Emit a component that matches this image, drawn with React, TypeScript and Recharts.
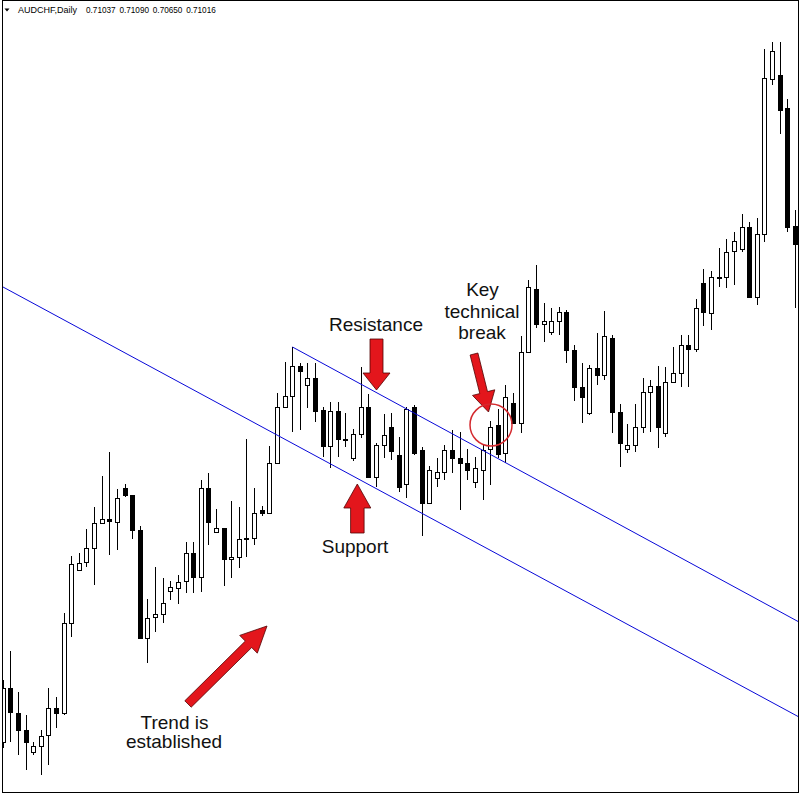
import React from 'react'
import { ComposedChart, Bar, XAxis, YAxis, ReferenceLine } from 'recharts'

// ---------------------------------------------------------------------------
// AUDCHF daily — channel breakout with annotations
// ---------------------------------------------------------------------------

const open = [
  0.6598, 0.6652, 0.6627, 0.661, 0.6588, 0.6594, 0.6605, 0.6632, 0.6627, 0.6717,
  0.677, 0.6778, 0.6792, 0.6817, 0.6821, 0.6818, 0.6852, 0.6845, 0.681, 0.6702,
  0.6723, 0.6726, 0.6749, 0.6752, 0.6759, 0.6787, 0.6763, 0.6852, 0.6808, 0.6812,
  0.6781, 0.6783, 0.6802, 0.6802, 0.683, 0.6827, 0.6877, 0.6933, 0.6944, 0.6974,
  0.6955, 0.6962, 0.693, 0.6894, 0.6929, 0.6901, 0.6882, 0.6906, 0.6933, 0.6863,
  0.6895, 0.6913, 0.6885, 0.6856, 0.6933, 0.689, 0.6837, 0.6862, 0.6868, 0.689,
  0.6882, 0.6877, 0.6858, 0.687, 0.6891, 0.6915, 0.6887, 0.6937, 0.6917, 0.6988,
  0.7051, 0.7016, 0.7008, 0.7019, 0.7028, 0.699, 0.6953, 0.6927, 0.6972, 0.6965,
  0.7002, 0.6928, 0.6891, 0.6895, 0.6913, 0.6948, 0.6954, 0.6907, 0.6958, 0.6967,
  0.6995, 0.6991, 0.7057, 0.7027, 0.7063, 0.7063, 0.7089, 0.7091, 0.7113, 0.7043,
  0.7106, 0.7261, 0.7265, 0.7232, 0.7114,
]

const high = [
  0.666, 0.6689, 0.6648, 0.6625, 0.6598, 0.661, 0.6652, 0.6643, 0.6727, 0.6784,
  0.6787, 0.6811, 0.6833, 0.6864, 0.6888, 0.6851, 0.6856, 0.6845, 0.6814, 0.6741,
  0.6773, 0.6762, 0.6759, 0.6765, 0.6798, 0.6798, 0.686, 0.6867, 0.6831, 0.6812,
  0.6839, 0.6833, 0.6901, 0.6852, 0.6834, 0.6894, 0.6947, 0.6978, 0.6993, 0.6977,
  0.6977, 0.6977, 0.6933, 0.6938, 0.6938, 0.6927, 0.6911, 0.6973, 0.6946, 0.6897,
  0.6926, 0.6927, 0.6903, 0.6933, 0.6935, 0.6893, 0.6874, 0.6882, 0.6895, 0.691,
  0.6908, 0.6891, 0.6883, 0.6895, 0.6919, 0.6931, 0.6955, 0.6947, 0.7004, 0.706,
  0.7075, 0.7037, 0.7032, 0.7033, 0.703, 0.6995, 0.6977, 0.6975, 0.7007, 0.7029,
  0.7005, 0.6936, 0.6916, 0.6936, 0.6962, 0.696, 0.6974, 0.6973, 0.6993, 0.7005,
  0.7005, 0.7041, 0.7071, 0.7069, 0.7092, 0.7101, 0.7108, 0.7126, 0.7118, 0.7122,
  0.7291, 0.7298, 0.7298, 0.7241, 0.713,
]

const low = [
  0.6592, 0.6598, 0.6585, 0.657, 0.6585, 0.6565, 0.6575, 0.6612, 0.6625, 0.6703,
  0.6769, 0.6773, 0.6755, 0.6817, 0.6785, 0.679, 0.6843, 0.6801, 0.6702, 0.6677,
  0.6708, 0.6717, 0.674, 0.6736, 0.6747, 0.6747, 0.6748, 0.6795, 0.6808, 0.6754,
  0.6762, 0.6772, 0.6783, 0.6795, 0.6824, 0.6827, 0.6877, 0.6933, 0.6908, 0.691,
  0.6932, 0.6918, 0.6883, 0.6872, 0.6883, 0.6893, 0.6879, 0.6902, 0.6863, 0.6853,
  0.6882, 0.688, 0.6848, 0.6842, 0.6885, 0.6804, 0.6837, 0.6853, 0.686, 0.6867,
  0.683, 0.686, 0.6852, 0.684, 0.6855, 0.6882, 0.6877, 0.6917, 0.6907, 0.6987,
  0.7012, 0.6998, 0.7005, 0.7005, 0.6977, 0.6939, 0.6917, 0.6925, 0.6955, 0.696,
  0.6907, 0.6873, 0.6887, 0.6888, 0.6907, 0.6908, 0.6892, 0.6903, 0.6957, 0.6953,
  0.6953, 0.6988, 0.7014, 0.701, 0.7053, 0.7052, 0.7055, 0.7088, 0.7043, 0.7035,
  0.7098, 0.7255, 0.7206, 0.7108, 0.7032,
]

const close = [
  0.6652, 0.6628, 0.661, 0.6598, 0.6594, 0.6604, 0.6632, 0.6627, 0.6717, 0.6776,
  0.6777, 0.6792, 0.6817, 0.6821, 0.6819, 0.6842, 0.6845, 0.681, 0.6702, 0.6722,
  0.6726, 0.6737, 0.6753, 0.6758, 0.6787, 0.6763, 0.6852, 0.6818, 0.6812, 0.6781,
  0.6783, 0.6801, 0.6801, 0.6827, 0.6827, 0.6877, 0.6933, 0.6944, 0.6974, 0.6969,
  0.6962, 0.6929, 0.6894, 0.6929, 0.6901, 0.69, 0.6906, 0.6933, 0.6863, 0.6895,
  0.6905, 0.6889, 0.6853, 0.6931, 0.6887, 0.6837, 0.687, 0.6868, 0.689, 0.6882,
  0.6877, 0.687, 0.6872, 0.689, 0.6913, 0.6886, 0.6943, 0.6917, 0.6988, 0.7053,
  0.7016, 0.7019, 0.7019, 0.7028, 0.699, 0.6953, 0.6943, 0.6972, 0.6965, 0.7004,
  0.6928, 0.6897, 0.6895, 0.6913, 0.6948, 0.6954, 0.6913, 0.6958, 0.6967, 0.6995,
  0.6991, 0.7032, 0.7028, 0.7063, 0.7062, 0.7088, 0.7099, 0.7113, 0.7043, 0.7106,
  0.7262, 0.7289, 0.723, 0.7113, 0.7096,
]

// channel trendlines: [startIndex, startPrice, endIndex, endPrice]
const channelLower = [0, 0.7053, 104.5, 0.6623]
const channelUpper = [38, 0.6993, 104.5, 0.6718]

const headerValues = ['0.71037', '0.71090', '0.70650', '0.71016']

const candles = open.map((o, i) => ({
  i,
  open: o,
  high: high[i],
  low: low[i],
  close: close[i],
  range: [low[i], high[i]],
}))

const Candle = (props: any) => {
  const { x, y, width, height, payload } = props
  const top0 = Math.min(y, y + height)
  const h = Math.abs(height)
  const ratio = h / (payload.high - payload.low)
  const cx = Math.floor(x + width / 2) + 0.5
  const bodyTop = top0 + (payload.high - Math.max(payload.open, payload.close)) * ratio
  const bodyBot = top0 + (payload.high - Math.min(payload.open, payload.close)) * ratio
  const up = payload.close > payload.open
  const bt = Math.round(bodyTop) + 0.5
  const bh = Math.max(Math.round(bodyBot - bodyTop), 1)
  return (
    <g>
      <line x1={cx} x2={cx} y1={top0} y2={top0 + h} stroke="#000" strokeWidth={1} />
      <rect x={cx - 2} y={bt} width={4} height={bh} fill={up ? '#fff' : '#000'} stroke="#000" strokeWidth={1} />
    </g>
  )
}

function arrowPoints(x1: number, y1: number, x2: number, y2: number, shaft: number, headW: number, headL: number) {
  const dx = x2 - x1
  const dy = y2 - y1
  const len = Math.hypot(dx, dy)
  const ux = dx / len
  const uy = dy / len
  const px = -uy
  const py = ux
  const bx = x2 - ux * headL
  const by = y2 - uy * headL
  const pts = [
    [x1 + (px * shaft) / 2, y1 + (py * shaft) / 2],
    [bx + (px * shaft) / 2, by + (py * shaft) / 2],
    [bx + (px * headW) / 2, by + (py * headW) / 2],
    [x2, y2],
    [bx - (px * headW) / 2, by - (py * headW) / 2],
    [bx - (px * shaft) / 2, by - (py * shaft) / 2],
    [x1 - (px * shaft) / 2, y1 - (py * shaft) / 2],
  ]
  return pts.map((p) => p[0].toFixed(1) + ',' + p[1].toFixed(1)).join(' ')
}

const LABEL_FONT = '"Liberation Sans", Arial, sans-serif'
const ARROW_FILL = '#e3161c'
const ARROW_STROKE = '#520404'

export default function App() {
  return (
    <div style={{ position: 'absolute', left: 0, top: 0, width: 800, height: 794, background: '#fff' }}>
      <ComposedChart
        width={800}
        height={794}
        data={candles}
        margin={{ top: 1, right: 1, bottom: 1, left: 3 }}
      >
        <XAxis dataKey="i" type="number" domain={[0, 104.5]} hide allowDataOverflow />
        <YAxis type="number" domain={[0.6547, 0.7339]} hide allowDataOverflow />
        <ReferenceLine
          segment={[
            { x: channelLower[0], y: channelLower[1] },
            { x: channelLower[2], y: channelLower[3] },
          ]}
          stroke="#0808d8"
          strokeWidth={1}
          ifOverflow="visible"
        />
        <ReferenceLine
          segment={[
            { x: channelUpper[0], y: channelUpper[1] },
            { x: channelUpper[2], y: channelUpper[3] },
          ]}
          stroke="#0808d8"
          strokeWidth={1}
          ifOverflow="visible"
        />
        <Bar dataKey="range" barSize={6} shape={<Candle />} isAnimationActive={false} />
      </ComposedChart>

      <svg
        width={800}
        height={794}
        style={{ position: 'absolute', left: 0, top: 0, pointerEvents: 'none' }}
      >
        <rect x={2.5} y={0.5} width={796} height={792} fill="none" stroke="#000" strokeWidth={1} />

        {/* header */}
        <path d="M4.5,8.5 L9.5,8.5 L7,11.5 Z" fill="#000" />
        <g fontFamily={LABEL_FONT} fill="#000">
          <text x={18} y={12.5} fontSize={9}>AUDCHF,Daily</text>
          {headerValues.map((v, k) => (
            <text key={v + k} x={86 + k * 33.4} y={12.5} fontSize={8.2}>
              {v}
            </text>
          ))}
        </g>

        {/* arrows */}
        <g fill={ARROW_FILL} stroke={ARROW_STROKE} strokeWidth={0.8} strokeLinejoin="miter">
          <polygon points={arrowPoints(376.5, 339, 376.5, 390, 13, 27, 17)} />
          <polygon points={arrowPoints(357.3, 533, 357.3, 484, 13.5, 27, 24)} />
          <polygon points={arrowPoints(474, 354, 488.5, 412, 8, 23, 20)} />
          <polygon points={arrowPoints(188, 704, 267, 626, 9, 25, 26)} />
        </g>

        <circle cx={491} cy={425} r={21} fill="none" stroke="#d42a2f" strokeWidth={1.5} />

        {/* labels */}
        <g fontFamily={LABEL_FONT} fontSize={19} fill="#111" textAnchor="middle">
          <text x={376} y={331}>Resistance</text>
          <text x={355} y={553}>Support</text>
          <text x={482.5} y={296}>Key</text>
          <text x={482} y={318}>technical</text>
          <text x={482} y={339}>break</text>
          <text x={174.5} y={729}>Trend is</text>
          <text x={174} y={748}>established</text>
        </g>
      </svg>
    </div>
  )
}
